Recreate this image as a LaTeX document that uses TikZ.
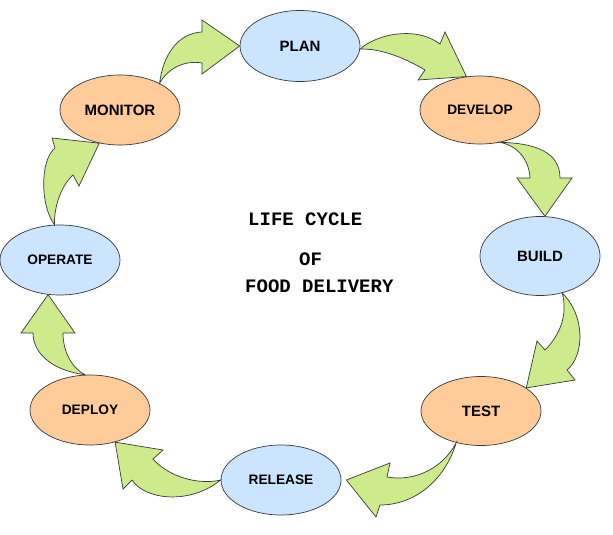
\documentclass[tikz,border=0pt]{standalone}
\usepackage{fontspec}
\setmainfont{Liberation Sans}
\newfontfamily\headfont{Liberation Mono}
\usetikzlibrary{shapes.geometric}
\definecolor{stageblue}{HTML}{CCE5FF}
\definecolor{stageorange}{HTML}{FFCC99}
\definecolor{arrowgreen}{HTML}{CDEB8B}
\definecolor{edgegray}{HTML}{36393D}
\tikzset{
  stage/.style={ellipse, draw=edgegray, line width=0.7pt, minimum width=120pt, inner sep=0pt},
  bigstage/.style={stage, font=\fontsize{15}{18}\selectfont\bfseries},
  smallstage/.style={stage, font=\fontsize{13.7}{16}\selectfont\bfseries},
  flowarrow/.style={fill=arrowgreen, draw=edgegray, line width=0.7pt, line join=miter},
  headline/.style={inner sep=0pt, anchor=base west, font=\headfont\bfseries\fontsize{19}{22}\selectfont}
}
\begin{document}
\begin{tikzpicture}[x=1pt,y=-1pt]
  \useasboundingbox (0,0) rectangle (613,535);
  \fill[white] (0,0) rectangle (613,535);
  % stages
  \node[bigstage, fill=stageblue, minimum height=71pt] (plan) at (300,46) {PLAN};
  \node[smallstage, fill=stageorange, minimum height=68pt] (develop) at (480,110) {DEVELOP};
  \node[bigstage, fill=stageblue, minimum height=79pt] (build) at (540,256) {BUILD};
  \node[bigstage, fill=stageorange, minimum height=69pt] (test) at (481,411) {TEST};
  \node[smallstage, fill=stageblue, minimum height=70pt] (release) at (281,480) {RELEASE};
  \node[smallstage, fill=stageorange, minimum height=70pt] (deploy) at (90,410) {DEPLOY};
  \node[smallstage, fill=stageblue, minimum height=70pt] (operate) at (60,260) {OPERATE};
  \node[bigstage, fill=stageorange, minimum height=70pt] (monitor) at (120,110) {MONITOR};
  % curved arrows
  \filldraw[flowarrow] (monitor.34) .. controls (163,55) and (178,33) .. (202,32) -- (202,20) -- (plan.180)
    -- (202,74) -- (202,63) .. controls (185,60) and (168,68) .. cycle;
  \filldraw[flowarrow] (plan.-3) .. controls (375,35) and (415,25) .. (440,44) -- (445,32) -- (develop.112)
    -- (418,80) -- (425,70) .. controls (405,58) and (380,48) .. cycle;
  \filldraw[flowarrow] (develop.-58) .. controls (535,143) and (560,152) .. (560,178) -- (572,178) -- (build.83)
    -- (517,178) -- (530,178) .. controls (529,160) and (518,146) .. cycle;
  \filldraw[flowarrow] (build.-59) .. controls (585,315) and (585,355) .. (567,370) -- (575,380) -- (test.27)
    -- (537,341) -- (545,350) .. controls (560,335) and (568,315) .. cycle;
  \filldraw[flowarrow] (test.-128) .. controls (445,480) and (415,505) .. (380,505) -- (376,517) -- ([xshift=5pt]release.east)
    -- (390,463) -- (387,477) .. controls (415,482) and (443,468) .. cycle;
  \filldraw[flowarrow] (release.180) .. controls (190,505) and (145,500) .. (132,480) -- (123,489) -- (deploy.-52)
    -- (163,450) -- (153,459) .. controls (170,478) and (200,485) .. cycle;
  \filldraw[flowarrow] (deploy.98) .. controls (50,370) and (33,352) .. (33,333) -- (21,333) -- (operate.-109)
    -- (75,333) -- (63,333) .. controls (63,352) and (72,368) .. cycle;
  \filldraw[flowarrow] (operate.99) .. controls (40,205) and (40,160) .. (55,148) -- (52,138) -- (monitor.-122)
    -- (79,186) -- (73,175) .. controls (62,185) and (54,205) .. cycle;
  % title
  \node[headline] (life) at (248,225) {LIFE CYCLE};
  \node[headline] (of) at (299,265) {OF};
  \node[headline] (food) at (245,292) {FOOD DELIVERY};
\end{tikzpicture}
\end{document}
